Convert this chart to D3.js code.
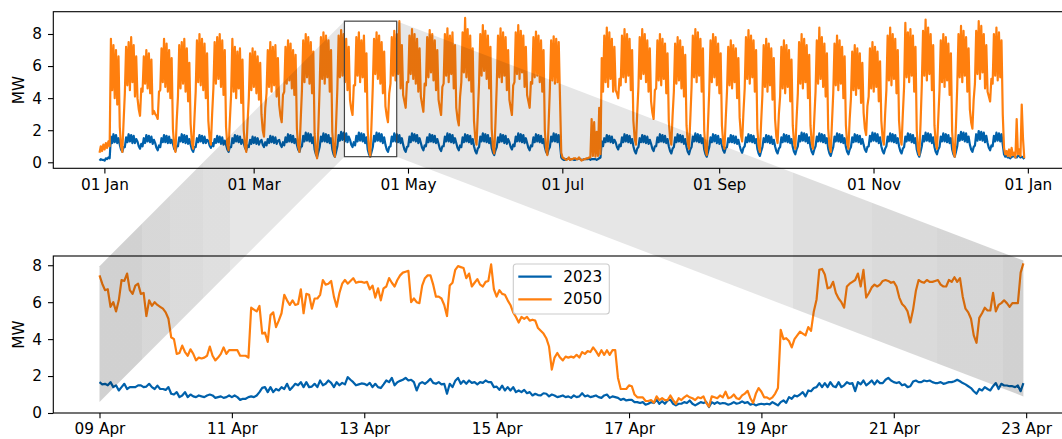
<!DOCTYPE html>
<html>
<head>
<meta charset="utf-8">
<script src="https://cdn.jsdelivr.net/npm/d3@7"></script>
<style>
  html, body { margin: 0; padding: 0; background: #fff; }
  svg { display: block; font-family: "DejaVu Sans", sans-serif; }
</style>
</head>
<body>
<svg id="chart" width="1062" height="439"></svg>
<script>
// ---------------------------------------------------------------
// Yearly record: one value around 02:00 and one around 14:00 per
// day, from Fri 30 Dec 2022 to Sat 30 Dec 2023 (366 days).
// Rows: first the 8 days up to Fri 6 Jan, then one row per week
// (Saturday .. Friday), then the final Saturday.
// ---------------------------------------------------------------
const yearFirstDay = "2022-12-30";
const nightHour = 2, dayHour = 14;

const load2023Night = [
  .1,.15,.1,.2,.25,1.2,1.25,1.2,
  1.1,.65,.95,1.25,1.3,1.2,1.2,
  1.3,.85,1.0,1.2,1.3,1.25,1.15,
  1.2,.75,.95,1.25,1.25,1.2,1.2,
  1.15,.7,1.0,1.3,1.25,1.2,1.15,
  1.1,.65,.95,1.25,1.3,1.2,1.2,
  1.35,.9,1.0,1.2,1.25,1.15,1.1,
  1.1,.65,.95,1.2,1.3,1.25,1.15,
  1.2,.75,.95,1.15,1.2,1.15,1.1,
  1.4,.95,1.05,1.2,1.25,1.2,1.15,
  1.4,.95,1.05,1.25,1.3,1.25,1.2,
  1.1,.65,1.0,1.3,1.35,1.3,1.2,
  .8,.35,.95,1.3,1.3,1.25,1.2,
  .8,.35,1.0,1.35,1.4,1.3,1.25,
  1.4,.95,1.05,1.3,1.35,1.3,1.2,
  .8,.35,.95,1.3,1.35,1.3,1.2,
  1.1,.65,1.0,1.3,1.3,1.25,1.2,
  1.1,.65,1.0,1.25,1.35,1.3,1.2,
  1.2,.75,1.0,1.25,1.3,1.25,1.2,
  1.15,.7,1.0,1.3,1.3,1.25,1.2,
  1.2,.75,.95,1.25,1.3,1.25,1.15,
  1.0,.55,.95,1.3,1.3,1.25,1.2,
  .9,.45,.95,1.25,1.3,1.2,1.15,
  1.25,.8,1.0,1.3,1.3,1.25,1.2,
  1.2,.75,1.0,1.25,1.3,1.25,1.2,
  .95,.5,.95,1.3,1.3,1.25,1.1,
  .2,.15,.2,.15,.2,.15,.2,
  .2,.15,.2,.2,.15,.2,.2,
  .2,.3,1.0,1.25,1.3,1.25,1.2,
  1.25,.8,1.0,1.25,1.3,1.25,1.2,
  1.0,.55,.95,1.25,1.25,1.2,1.15,
  1.15,.7,1.0,1.25,1.3,1.25,1.2,
  1.0,.55,.95,1.25,1.3,1.25,1.15,
  .95,.5,.95,1.3,1.3,1.25,1.2,
  .8,.35,.95,1.25,1.3,1.2,1.15,
  1.05,.6,.95,1.25,1.25,1.2,1.15,
  1.05,.6,1.0,1.25,1.3,1.25,1.2,
  .85,.4,.95,1.25,1.25,1.2,1.15,
  1.0,.55,.95,1.25,1.3,1.25,1.2,
  .95,.5,1.0,1.3,1.35,1.3,1.2,
  .95,.5,1.0,1.3,1.3,1.25,1.2,
  .85,.4,.95,1.3,1.3,1.25,1.2,
  .95,.5,.95,1.25,1.3,1.25,1.15,
  1.1,.65,1.0,1.3,1.35,1.3,1.2,
  1.0,.55,1.0,1.3,1.3,1.25,1.2,
  1.0,.55,.95,1.3,1.35,1.25,1.2,
  .8,.35,1.0,1.3,1.35,1.3,1.2,
  .95,.5,.95,1.3,1.3,1.25,1.2,
  .8,.35,1.0,1.35,1.4,1.3,1.25,
  1.1,.65,1.05,1.35,1.4,1.35,1.25,
  1.2,.75,1.0,1.3,1.35,1.3,1.1,
  .35,.3,.25,.35,.3,.4,.3,
  .3
];
const load2023Day = [
  .2,.15,.25,.3,1.6,1.75,1.7,1.5,
  .8,.95,1.55,1.75,1.7,1.65,1.45,
  1.0,1.15,1.5,1.7,1.65,1.6,1.4,
  .9,1.05,1.5,1.7,1.65,1.6,1.4,
  .85,1.0,1.55,1.75,1.7,1.65,1.45,
  .8,.95,1.5,1.7,1.65,1.6,1.4,
  1.05,1.2,1.45,1.65,1.6,1.55,1.35,
  .8,.95,1.5,1.7,1.65,1.6,1.4,
  .9,1.05,1.4,1.6,1.55,1.5,1.3,
  1.1,1.25,1.45,1.65,1.6,1.55,1.35,
  1.1,1.25,1.55,1.75,1.7,1.65,1.45,
  .8,.95,1.65,1.85,1.8,1.75,1.55,
  .5,.65,1.6,1.8,1.75,1.7,1.5,
  .5,.65,1.7,1.9,1.85,1.8,1.6,
  1.1,1.25,1.65,1.85,1.8,1.75,1.55,
  .5,.65,1.65,1.85,1.8,1.75,1.55,
  .8,.95,1.6,1.8,1.75,1.7,1.5,
  .8,.95,1.6,1.8,1.75,1.7,1.5,
  .9,1.05,1.55,1.75,1.7,1.65,1.45,
  .85,1.0,1.6,1.8,1.75,1.7,1.5,
  .9,1.05,1.55,1.75,1.7,1.65,1.45,
  .7,.85,1.6,1.8,1.75,1.7,1.5,
  .6,.75,1.55,1.75,1.7,1.65,1.45,
  .95,1.1,1.6,1.8,1.75,1.7,1.5,
  .9,1.05,1.55,1.75,1.7,1.65,1.45,
  .65,.8,1.6,1.8,1.75,1.7,.3,
  .15,.2,.25,.2,.15,.2,.25,
  .15,.2,.2,.25,.2,.2,.15,
  .25,1.3,1.5,1.7,1.65,1.6,1.4,
  .95,1.1,1.55,1.75,1.7,1.65,1.45,
  .7,.85,1.5,1.7,1.65,1.6,1.4,
  .85,1.0,1.55,1.75,1.7,1.65,1.45,
  .7,.85,1.55,1.75,1.7,1.65,1.45,
  .65,.8,1.6,1.8,1.75,1.7,1.5,
  .5,.65,1.55,1.75,1.7,1.65,1.45,
  .75,.9,1.5,1.7,1.65,1.6,1.4,
  .75,.9,1.55,1.75,1.7,1.65,1.45,
  .55,.7,1.5,1.7,1.65,1.6,1.4,
  .7,.85,1.55,1.75,1.7,1.65,1.45,
  .65,.8,1.65,1.85,1.8,1.75,1.55,
  .65,.8,1.6,1.8,1.75,1.7,1.5,
  .55,.7,1.6,1.8,1.75,1.7,1.5,
  .65,.8,1.55,1.75,1.7,1.65,1.45,
  .8,.95,1.65,1.85,1.8,1.75,1.55,
  .7,.85,1.6,1.8,1.75,1.7,1.5,
  .7,.85,1.6,1.8,1.75,1.7,1.5,
  .5,.65,1.65,1.85,1.8,1.75,1.55,
  .65,.8,1.6,1.8,1.75,1.7,1.5,
  .5,.65,1.7,1.9,1.85,1.8,1.6,
  .8,.95,1.75,1.95,1.9,1.85,1.65,
  .9,1.05,1.65,1.85,1.8,1.75,.5,
  .4,.3,.35,.45,.3,.4,.35,
  .2
];
const load2050Night = [
  .6,.7,.8,.9,1.0,4.5,4.0,3.6,
  2.2,.65,4.3,4.8,4.5,5.0,4.1,
  4.0,2.9,4.4,4.9,4.6,4.3,3.0,
  3.0,2.7,4.5,5.0,4.7,4.4,4.0,
  2.1,.65,4.1,4.6,4.9,4.4,3.8,
  2.4,.85,4.4,5.0,4.8,4.5,4.0,
  2.6,1.1,4.6,4.9,5.2,4.7,4.2,
  2.2,.75,4.2,4.4,4.0,4.6,3.7,
  2.0,.65,4.0,4.5,4.7,4.3,3.9,
  3.0,1.6,4.3,4.7,4.4,4.8,4.1,
  3.6,2.5,4.4,4.9,5.1,4.6,4.2,
  2.1,.65,4.5,5.0,5.3,4.9,4.3,
  1.8,.25,4.7,5.2,4.9,5.3,4.4,
  1.9,.35,4.6,5.3,5.4,5.0,4.5,
  3.9,2.95,4.8,5.4,5.0,5.3,4.4,
  2.0,.35,4.7,5.5,5.2,4.9,4.3,
  3.5,2.5,4.9,5.4,5.1,5.5,4.6,
  4.2,3.4,5.0,5.5,5.2,4.9,4.4,
  4.1,3.15,4.8,5.3,5.6,5.1,4.5,
  3.9,2.95,4.9,5.4,5.0,5.5,4.6,
  3.4,2.3,5.0,5.6,5.3,5.1,4.4,
  2.6,1.1,4.9,5.4,5.7,5.2,4.6,
  2.1,.55,4.8,5.3,5.0,5.4,4.5,
  3.9,2.95,5.0,5.5,5.2,5.6,4.7,
  4.2,3.4,4.9,5.3,5.4,5.0,4.4,
  2.0,.45,4.6,5.1,4.9,5.0,4.0,
  .3,.2,.2,.15,.2,.25,.2,
  .2,.15,.2,.25,.3,.4,.35,
  .4,.5,4.4,5.0,4.7,5.2,4.4,
  4.5,4.0,4.8,5.3,5.0,5.4,4.5,
  2.6,1.1,4.7,5.2,5.5,5.0,4.4,
  3.8,2.7,4.6,5.1,4.8,5.2,4.3,
  2.6,1.1,4.4,4.9,5.1,4.6,4.1,
  2.3,.85,4.7,5.3,5.0,5.4,4.4,
  2.0,.45,4.5,5.0,5.3,4.8,4.3,
  2.3,.85,4.4,4.8,4.6,5.0,4.0,
  2.8,1.3,4.6,5.2,4.9,5.3,4.4,
  2.1,.65,4.2,4.7,4.4,4.8,3.9,
  2.7,1.2,4.1,4.6,4.3,4.7,3.8,
  2.3,.85,4.3,4.9,4.6,5.0,4.0,
  2.3,.85,4.4,4.9,5.2,4.7,4.1,
  2.1,.65,4.3,4.8,4.5,4.9,4.0,
  2.3,.85,4.0,4.5,4.2,4.6,3.7,
  3.1,1.7,4.1,4.6,4.4,4.7,3.8,
  2.6,1.1,4.5,5.1,4.8,5.2,4.3,
  2.6,1.1,4.7,5.3,5.0,5.4,4.4,
  2.0,.45,4.8,5.4,5.1,5.5,4.5,
  2.3,.85,4.5,5.0,4.7,5.1,4.2,
  1.9,.35,4.7,5.3,5.0,5.4,4.4,
  3.3,2.1,4.9,5.5,5.2,5.6,4.6,
  4.4,3.8,4.9,5.4,5.1,5.3,3.0,
  .5,.4,.35,.45,.3,.5,.4,
  1.5
];
const load2050Day = [
  1.0,1.1,1.2,1.3,7.7,7.3,7.0,6.6,
  1.0,2.5,7.2,7.5,7.8,7.3,6.6,
  3.3,4.6,6.6,7.0,6.8,6.4,3.2,
  2.9,4.4,7.1,7.7,7.4,7.0,6.5,
  1.0,2.6,7.3,7.5,7.7,7.1,6.2,
  1.2,2.7,7.6,8.0,7.7,7.4,6.8,
  1.5,3.0,7.5,7.8,8.0,7.6,7.0,
  1.1,2.6,7.7,7.2,6.9,7.1,6.4,
  1.0,2.5,6.8,7.1,6.9,6.6,6.2,
  2.0,3.4,7.0,7.5,7.2,7.3,6.5,
  2.9,4.2,7.2,7.6,7.4,7.0,6.7,
  1.0,2.6,7.6,8.0,7.8,7.5,6.9,
  .6,2.2,7.8,8.1,7.9,7.6,7.0,
  .8,2.4,7.9,8.25,8.0,7.7,7.2,
  3.3,4.8,7.8,8.1,7.6,7.9,6.8,
  .8,2.4,7.7,8.1,7.9,7.5,6.9,
  2.9,4.3,7.8,8.2,8.0,8.8,7.3,
  3.8,5.0,7.9,8.3,8.0,7.7,7.1,
  3.6,4.9,7.8,8.25,8.0,7.6,7.0,
  3.4,4.7,8.0,8.35,7.9,8.1,7.3,
  2.7,4.1,8.1,9.0,8.3,7.9,7.1,
  1.5,3.0,8.0,8.55,8.2,7.9,7.2,
  .9,2.5,7.9,8.35,8.1,7.8,7.0,
  3.4,4.8,8.1,8.55,8.2,7.9,7.2,
  3.8,5.0,7.8,8.15,7.9,7.6,7.0,
  .8,2.4,7.6,7.85,7.7,7.5,.6,
  .25,.15,.3,.2,.25,.2,.3,
  .1,.2,.25,.3,2.7,2.5,1.9,
  3.4,6.5,7.9,8.4,8.1,7.7,7.2,
  4.3,5.2,7.9,8.3,8.0,7.7,7.0,
  1.5,3.0,7.8,8.3,8.0,7.6,7.1,
  3.1,4.5,7.6,8.0,7.7,7.4,6.8,
  1.5,2.9,7.4,7.8,7.6,7.2,6.7,
  1.2,2.7,7.9,8.3,8.1,7.7,7.1,
  .8,2.4,7.6,8.0,7.8,7.4,6.8,
  1.2,2.7,7.2,7.6,7.3,7.1,6.5,
  1.7,3.1,7.8,8.25,7.9,7.6,7.0,
  1.0,2.5,7.3,7.7,7.4,7.1,6.5,
  1.6,3.0,7.2,7.6,7.3,7.0,6.4,
  1.2,2.7,7.5,8.0,7.7,7.3,6.7,
  1.2,2.7,7.6,8.4,7.8,7.4,6.8,
  1.0,2.5,7.4,7.9,7.6,7.2,6.6,
  1.2,2.7,6.9,7.3,7.1,6.8,6.2,
  2.1,3.5,7.1,7.5,7.2,6.9,6.3,
  1.5,3.0,7.9,8.4,8.0,7.7,7.0,
  1.5,3.0,8.7,8.1,8.3,7.9,7.2,
  .8,2.4,8.2,8.9,8.4,8.0,7.3,
  1.2,2.7,7.6,8.0,7.8,7.4,6.8,
  .7,2.3,8.0,8.5,8.2,7.8,7.1,
  2.5,3.9,8.2,8.8,8.5,8.0,7.3,
  4.1,5.2,8.0,8.4,8.1,7.6,.9,
  .7,.8,.9,.6,2.7,.8,3.6,
  .25
];

// ---------------------------------------------------------------
// Hourly detail, 9 Apr 2023 00:00 .. 22 Apr 2023 23:00 (one row per day)
// ---------------------------------------------------------------
const zoomFirstHour = "2023-04-09T00:00:00Z";
const zoom2023 = [
  1.67,1.55,1.58,1.5,1.67,1.4,1.5,1.22,1.4,1.58,1.3,1.4,1.4,1.4,1.5,1.5,1.4,1.43,1.58,1.4,1.3,1.48,1.3,1.3,
  1.25,1.4,1.04,1.0,1.13,.86,.95,1.13,.86,1.0,.9,.86,.95,.9,.86,.95,1.0,.95,.82,.86,.9,.82,.86,.95,
  .86,.95,.86,.71,.77,.77,.86,.9,.86,.95,1.13,1.36,1.4,1.13,1.4,1.13,1.3,1.22,1.4,1.3,1.58,1.25,1.4,1.58,
  1.5,1.67,1.4,1.67,1.4,1.43,1.58,1.4,1.76,1.5,1.58,1.76,1.63,1.4,1.67,1.5,1.63,1.55,1.94,1.8,1.67,1.5,1.55,1.6,
  1.58,1.5,1.63,1.4,1.58,1.4,1.35,1.55,1.76,1.67,1.9,1.5,1.67,1.74,1.8,1.9,1.76,1.8,1.67,1.22,1.58,1.67,1.58,1.7,
  1.85,1.63,1.58,1.67,1.55,1.58,1.04,1.58,1.4,1.74,1.9,1.58,1.74,1.58,1.76,1.63,1.67,1.55,1.67,1.63,1.76,1.67,1.67,1.4,
  1.43,1.25,1.48,1.22,1.4,1.22,1.4,1.13,1.22,1.13,1.25,1.07,1.13,.95,1.04,.97,.95,1.07,1.04,.9,1.0,.95,.86,.9,
  .95,.86,.9,.82,.95,.86,.9,1.07,.9,.95,.86,.9,.95,.86,.82,.95,1.0,.82,.9,.86,.82,.71,.77,.68,
  .71,.71,.59,.59,.54,.59,.45,.5,.59,.54,.72,.5,.64,.5,.68,.72,.5,.41,.5,.5,.59,.54,.68,.5,
  .41,.5,.59,.54,.6,.32,.59,.5,.59,.5,.54,.52,.45,.5,.59,.5,.54,.63,.54,.59,.45,.5,.41,.47,
  .5,.47,.5,.47,.59,.5,.41,.59,.68,.55,.86,.77,.95,.9,1.0,1.13,.9,1.22,1.18,1.35,1.4,1.62,1.4,1.62,
  1.4,1.67,1.45,1.4,1.67,1.4,1.5,1.67,1.58,1.62,1.18,1.67,1.55,1.76,1.5,1.62,1.76,1.55,1.76,1.62,1.62,1.8,1.9,1.76,
  1.67,1.62,1.67,1.5,1.55,1.4,1.45,1.7,1.76,1.67,1.67,1.76,1.72,1.76,1.67,1.62,1.62,1.67,1.58,1.62,1.67,1.67,1.72,1.8,
  1.72,1.62,1.55,1.45,1.35,1.18,1.04,1.3,1.22,1.4,1.3,1.22,1.45,1.62,1.3,1.58,1.49,1.49,1.45,1.45,1.4,1.49,1.18,1.62
];
const zoom2050 = [
  7.45,7.0,6.65,6.7,5.75,6.0,5.5,6.1,7.2,7.15,7.55,6.65,6.45,6.9,7.0,6.45,6.5,5.25,6.1,5.8,6.0,5.85,5.75,5.65,
  5.45,5.1,4.1,4.0,3.2,3.25,3.65,3.3,3.1,3.45,3.2,2.85,3.0,2.95,3.0,3.1,3.6,3.1,2.85,3.0,3.2,3.55,3.2,3.4,
  3.4,3.4,3.4,3.1,3.1,3.1,3.0,5.7,5.6,5.5,5.8,4.3,4.35,3.85,5.3,5.45,4.65,5.0,5.4,6.4,6.1,5.85,6.1,5.85,
  5.9,6.7,5.4,6.45,6.4,5.65,6.2,6.2,6.4,7.2,6.95,7.0,7.15,6.3,5.75,6.5,7.0,7.2,7.0,7.15,7.3,7.05,7.1,7.1,
  7.05,7.1,6.7,6.9,6.25,6.75,6.1,6.75,6.85,7.3,7.05,6.85,7.2,7.45,7.6,7.65,7.7,6.0,6.2,6.0,5.95,6.9,7.3,7.45,
  7.45,6.95,6.3,6.3,6.2,5.85,5.25,6.9,7.05,7.75,7.95,7.9,7.85,7.3,7.55,6.85,7.05,7.25,6.95,6.85,7.1,7.15,8.05,6.7,
  6.3,6.65,6.45,6.4,6.1,5.85,5.45,5.2,4.9,5.2,5.1,5.2,5.0,5.05,5.0,4.6,4.45,4.3,4.05,3.6,2.35,3.0,3.25,3.0,
  2.85,3.05,3.0,3.05,3.0,3.15,3.0,3.3,3.2,3.35,3.3,3.55,3.35,3.1,3.4,3.15,3.4,3.15,3.4,3.4,1.9,1.3,1.3,1.3,
  1.5,1.45,1.0,.85,.85,.85,.65,.65,.7,.55,.9,.7,.8,.7,.7,.95,.7,.5,.8,.7,.85,.95,.85,.8,
  .7,.85,.8,.9,.55,.35,.9,.85,.8,.95,.85,1.15,.8,.85,1.0,.8,.75,.95,1.05,1.2,.8,.55,1.05,1.35,
  1.15,.85,.85,.75,.85,1.05,1.35,4.5,4.0,4.05,3.9,3.55,4.0,4.2,4.4,4.3,4.2,4.65,4.45,5.5,6.15,7.75,7.8,7.5,
  6.75,6.8,7.1,6.5,6.2,6.0,5.7,6.85,7.0,7.1,7.2,7.55,6.85,7.75,6.25,6.5,6.8,6.95,6.85,6.95,7.15,7.2,7.15,7.05,
  7.1,6.85,6.25,5.9,5.75,5.5,4.9,5.6,6.6,7.2,7.1,7.05,7.2,7.1,7.1,7.15,7.2,6.95,6.85,6.85,7.2,7.1,7.35,7.1,
  7.3,6.3,5.65,5.45,5.1,4.2,3.8,5.15,5.4,5.7,5.55,5.55,6.5,5.5,5.85,5.95,6.1,5.95,5.75,5.95,5.95,5.95,7.6,8.1
];

// Series, ticks and the highlighted window
const seriesNames  = ["2023", "2050"];
const seriesColors = ["#0061ab", "#ff7f0e"];
const yearTicks = ["2023-01-01", "2023-03-01", "2023-05-01", "2023-07-01", "2023-09-01", "2023-11-01", "2024-01-01"];
const zoomTicks = ["2023-04-09", "2023-04-11", "2023-04-13", "2023-04-15", "2023-04-17", "2023-04-19", "2023-04-21", "2023-04-23"];
const mwTicks = [0, 2, 4, 6, 8];
const yearLimitsMW = [-0.375, 9.39];
const zoomLimitsMW = [0, 8.5];
const windowSpan = ["2023-04-05T21:00:00Z", "2023-04-26T13:00:00Z"];
const windowMW = [0.35, 8.8];
const linkLeftMW = [0.6, 7.95];
const linkRightMW = [0.9, 8.25];
// shading steps of the two link bands: [start time in the detail axis, opacity]
const linkLeftSteps = [["2023-04-09T00:00:00Z", 0.18], ["2023-04-09T15:30:00Z", 0.155], ["2023-04-10T01:30:00Z", 0.14], ["2023-04-10T13:30:00Z", 0.125], ["2023-04-10T23:15:00Z", 0.1]];
const linkRightSteps = [["2023-04-19T11:30:00Z", 0.13], ["2023-04-20T16:00:00Z", 0.145], ["2023-04-21T15:30:00Z", 0.16], ["2023-04-22T15:30:00Z", 0.18]];

// ---------------------------------------------------------------
const HOUR = 3600e3, DAY = 24 * HOUR;
const t0Year = Date.parse(yearFirstDay + "T00:00:00Z");
const t0Zoom = Date.parse(zoomFirstHour);

function dailySeries(night, day) {
  const pts = [];
  night.forEach((v, i) => {
    pts.push([new Date(t0Year + i * DAY + nightHour * HOUR), v]);
    pts.push([new Date(t0Year + i * DAY + dayHour * HOUR), day[i]]);
  });
  return pts;
}
function hourlySeries(vals) {
  return vals.map((v, i) => [new Date(t0Zoom + i * HOUR), v]);
}
function padded(ext, f) {
  const span = ext[1] - ext[0];
  return [new Date(+ext[0] - span * f), new Date(+ext[1] + span * f)];
}

const yearData = [dailySeries(load2023Night, load2023Day), dailySeries(load2050Night, load2050Day)];
const zoomData = [hourlySeries(zoom2023), hourlySeries(zoom2050)];

const svg = d3.select("#chart");
const FONT = 15.3;
const topBox = { left: 53.3, right: 1070.5, top: 11.7, bottom: 168.3 };
const botBox = { left: 53.3, right: 1069.6, top: 256, bottom: 413 };

const xTop = d3.scaleUtc().domain(padded(d3.extent(yearData[0], d => d[0]), 0.05)).range([topBox.left, topBox.right]);
const yTop = d3.scaleLinear().domain(yearLimitsMW).range([topBox.bottom, topBox.top]);
const xBot = d3.scaleUtc().domain(padded(d3.extent(zoomData[0], d => d[0]), 0.05)).range([botBox.left, botBox.right]);
const yBot = d3.scaleLinear().domain(zoomLimitsMW).range([botBox.bottom, botBox.top]);

const defs = svg.append("defs");
function clip(id, box) {
  defs.append("clipPath").attr("id", id).append("rect")
    .attr("x", box.left).attr("y", box.top)
    .attr("width", box.right - box.left).attr("height", box.bottom - box.top);
}
clip("clipTop", topBox);
clip("clipBot", botBox);

function panel(box, x, y, data, ticks, fmt, clipId, width) {
  const g = svg.append("g");
  const line = d3.line().x(d => x(d[0])).y(d => y(d[1]));
  const lines = g.append("g").attr("clip-path", `url(#${clipId})`);
  data.forEach((s, i) => {
    lines.append("path").datum(s).attr("d", line)
      .attr("fill", "none").attr("stroke", seriesColors[i])
      .attr("stroke-width", width).attr("stroke-linejoin", "round");
  });
  // frame
  g.append("rect").attr("x", box.left).attr("y", box.top)
    .attr("width", box.right - box.left).attr("height", box.bottom - box.top)
    .attr("fill", "none").attr("stroke", "#000").attr("stroke-width", 1.1);
  const xa = g.append("g").attr("transform", `translate(0,${box.bottom})`)
    .call(d3.axisBottom(x).tickValues(ticks.map(t => new Date(t + "T00:00:00Z")))
      .tickFormat(d3.utcFormat(fmt)).tickSizeInner(5.3).tickSizeOuter(0).tickPadding(5.3));
  const ya = g.append("g").attr("transform", `translate(${box.left},0)`)
    .call(d3.axisLeft(y).tickValues(mwTicks).tickFormat(d3.format("d"))
      .tickSizeInner(5.3).tickSizeOuter(0).tickPadding(6));
  [xa, ya].forEach(a => {
    a.select(".domain").remove();
    a.attr("font-family", null).attr("font-size", null);
    a.selectAll("line").attr("stroke", "#000").attr("stroke-width", 1.1);
    a.selectAll("text").attr("fill", "#000").style("font-size", FONT + "px")
      .style("font-family", '"DejaVu Sans", sans-serif');
  });
  g.append("text")
    .attr("transform", `translate(19,${(box.top + box.bottom) / 2}) rotate(-90)`)
    .attr("text-anchor", "middle").attr("dominant-baseline", "central")
    .style("font-size", FONT + "px").attr("fill", "#000").text("MW");
  return g;
}

panel(topBox, xTop, yTop, yearData, yearTicks, "%d %b", "clipTop", 2.2);
const bot = panel(botBox, xBot, yBot, zoomData, zoomTicks, "%d %b", "clipBot", 2.2);

// legend
const lg = bot.append("g");
lg.append("rect").attr("x", 513.3).attr("y", 264).attr("width", 96).attr("height", 50)
  .attr("rx", 3).attr("fill", "#fff").attr("fill-opacity", 0.8)
  .attr("stroke", "#cccccc").attr("stroke-width", 1.1);
seriesNames.forEach((name, i) => {
  const yy = 276.7 + i * 22.6;
  lg.append("line").attr("x1", 518.3).attr("x2", 551.7).attr("y1", yy).attr("y2", yy)
    .attr("stroke", seriesColors[i]).attr("stroke-width", 2.2);
  lg.append("text").attr("x", 563.3).attr("y", yy).attr("dominant-baseline", "central")
    .style("font-size", FONT + "px").attr("fill", "#000").text(name);
});

// link bands between the highlighted window and the detail axis
const winX = windowSpan.map(t => xTop(new Date(t)));
const winY = windowMW.map(v => yTop(v));
const firstT = zoomData[0][0][0], lastT = zoomData[0][zoomData[0].length - 1][0];

function stepGradient(id, xa, xb, steps, baseOpacity) {
  // steps: pixel starts with opacities, ordered from xa toward xb
  const grad = defs.append("linearGradient").attr("id", id)
    .attr("gradientUnits", "userSpaceOnUse")
    .attr("x1", xa).attr("x2", xb).attr("y1", 0).attr("y2", 0);
  const span = xb - xa;
  const seq = [];
  if (baseOpacity != null) seq.push([xa, baseOpacity]);
  steps.forEach(s => seq.push(s));
  seq.forEach((s, i) => {
    const o0 = Math.max(0, Math.min(1, (s[0] - xa) / span));
    const o1 = i + 1 < seq.length ? Math.max(0, Math.min(1, (seq[i + 1][0] - xa) / span)) : 1;
    grad.append("stop").attr("offset", o0).attr("stop-color", "#000").attr("stop-opacity", s[1]);
    grad.append("stop").attr("offset", o1).attr("stop-color", "#000").attr("stop-opacity", s[1]);
  });
}
const xl = xBot(firstT), xr = xBot(lastT);
stepGradient("fadeLeft", xl, winX[0], linkLeftSteps.map(s => [xBot(new Date(s[0])), s[1]]), null);
stepGradient("fadeRight", winX[1], xr, linkRightSteps.map(s => [xBot(new Date(s[0])), s[1]]), 0.1);

const links = svg.append("g");
links.append("path")
  .attr("d", d3.line()([[winX[0], winY[1]], [winX[0], winY[0]], [xl, yBot(linkLeftMW[0])], [xl, yBot(linkLeftMW[1])]]) + "Z")
  .attr("fill", "url(#fadeLeft)");
links.append("path")
  .attr("d", d3.line()([[winX[1], winY[1]], [winX[1], winY[0]], [xr, yBot(linkRightMW[0])], [xr, yBot(linkRightMW[1])]]) + "Z")
  .attr("fill", "url(#fadeRight)");

// highlighted window in the yearly axis
svg.append("rect")
  .attr("x", winX[0]).attr("y", winY[1])
  .attr("width", winX[1] - winX[0]).attr("height", winY[0] - winY[1])
  .attr("fill", "none").attr("stroke", "#444").attr("stroke-width", 1.2);
</script>
</body>
</html>
